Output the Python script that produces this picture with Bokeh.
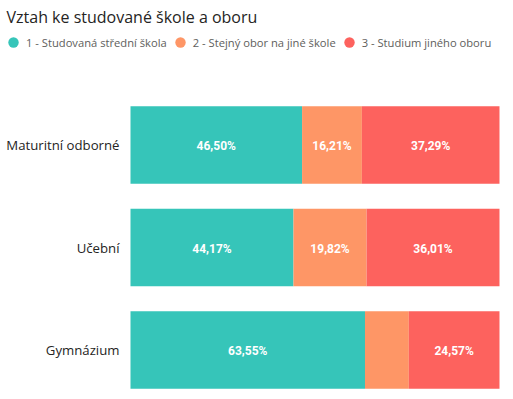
from bokeh.plotting import figure
from bokeh.models import Range1d, ColumnDataSource, Legend, LegendItem, Label
from bokeh.core.properties import value
from bokeh.embed import file_html
from bokeh.resources import INLINE

title = "Vztah ke studované škole a oboru"
categories = ["Maturitní odborné", "Učební", "Gymnázium"]
series = ["1 - Studovaná střední škola", "2 - Stejný obor na jiné škole", "3 - Studium jiného oboru"]
s1 = [46.50, 44.17, 63.55]
s2 = [16.21, 19.82, 11.88]
s3 = [37.29, 36.01, 24.57]
colors = ["#36C5B9", "#FE9666", "#FD625E"]

W, H = 505, 391
p = figure(width=W, height=H, output_backend="svg", toolbar_location=None,
           x_range=Range1d(-35.23, 101.63), y_range=Range1d(-0.405, 3.41),
           min_border=0, title_location=None)
p.axis.visible = False
p.grid.visible = False
p.outline_line_color = None

n = len(categories)
ypos = [n - 1 - i for i in range(n)]
vals = [s1, s2, s3]

lefts = [0.0] * n
legend_items = []
for k, (sv, col, name) in enumerate(zip(vals, colors, series)):
    rights = [l + v for l, v in zip(lefts, sv)]
    src = ColumnDataSource(dict(y=ypos, left=lefts, right=rights))
    p.hbar(y="y", left="left", right="right", height=0.755, source=src,
           fill_color=col, line_color=None)
    # data labels (Power BI hides labels that do not fit)
    lx, ly, lt = [], [], []
    for l, v, yy in zip(lefts, sv, ypos):
        if v >= 12:
            lx.append(l + v / 2)
            ly.append(yy)
            lt.append(f"{v:.2f}".replace(".", ",") + "%")
    p.text(x=lx, y=ly, text=lt, text_align="center", text_baseline="middle",
           text_color="white", text_font=value("Roboto"), text_font_style="bold",
           text_font_size="12px", y_offset=1)
    # legend marker renderer (zero-size markers, only used for the legend circle)
    dummy = p.scatter(x="left", y="y", source=src, size=0, marker="circle",
                      fill_color=col, line_color=None)
    legend_items.append(LegendItem(label=name, renderers=[dummy]))
    lefts = rights

# category labels
p.text(x=[0] * n, y=ypos, text=categories, x_offset=-11, text_align="right",
       text_baseline="middle", text_font=value("Open Sans"), text_font_size="13.2px",
       text_color="#252423")

legend = Legend(items=legend_items, orientation="horizontal", location=(0, 336),
                glyph_width=26, glyph_height=26, label_standoff=-6, spacing=-2,
                padding=0, margin=0, border_line_color=None, background_fill_alpha=0,
                label_text_font="Open Sans", label_text_font_size="11.2px",
                label_text_color="#605E5C")
p.add_layout(legend)

p.add_layout(Label(x=6, y=375, x_units="screen", y_units="screen", text=title,
                   text_font="Open Sans", text_font_size="16px", text_color="#252423",
                   text_baseline="alphabetic"))

open("out.html", "w").write(file_html(p, INLINE))
